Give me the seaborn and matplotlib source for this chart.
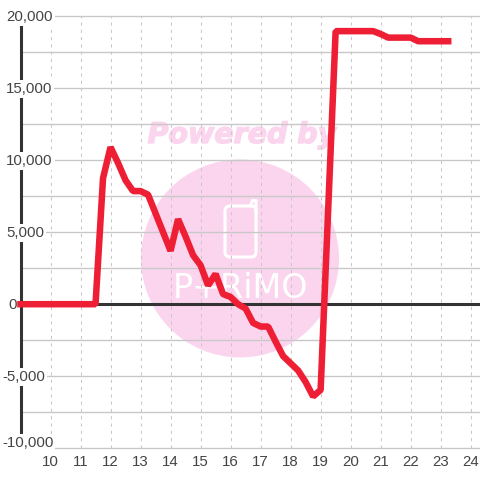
import matplotlib
matplotlib.use('Agg')
import matplotlib.pyplot as plt
import matplotlib.patheffects as pe
import seaborn as sns
from matplotlib.patches import Circle, FancyBboxPatch
from matplotlib.transforms import Affine2D

# Series values
hours = [9, 11.5, 11.75, 12, 12.25, 12.5, 12.75, 13, 13.25, 13.5, 13.75, 14, 14.25, 14.5, 14.75,
         15, 15.25, 15.5, 15.75, 16, 16.25, 16.5, 16.75, 17, 17.25, 17.5, 17.75, 18, 18.25, 18.5,
         18.75, 19, 19.5, 20.75, 21, 21.25, 22, 22.25, 23.25]
values = [0, 0, 8750, 10900, 9800, 8600, 7850, 7850, 7600, 6300, 5000, 3700, 5900, 4700, 3400,
          2700, 1300, 2100, 700, 500, 0, -300, -1300, -1550, -1550, -2600, -3600, -4100, -4600, -5400,
          -6400, -5950, 18950, 18950, 18750, 18500, 18500, 18250, 18250]

x_ticks = list(range(10, 25))
y_ticks = list(range(-10000, 20001, 2500))
y_labels = ['20,000', '15,000', '10,000', '5,000', '0', '-5,000', '-10,000']
y_label_values = [20000, 15000, 10000, 5000, 0, -5000, -10000]
y_label_left = [6, 6, 6, 6, 8, 2, 2]
y_label_shift = [-1, -1, -1, -1, -1, -1, 5.5]

RED = '#ee1f35'
PINK = '#fbd5ee'
DARK = '#333333'
GREY = '#c8c8c8'
TEXT = '#444444'

sns.set_style('white')
plt.rcParams['font.family'] = ['Liberation Sans', 'DejaVu Sans']

fig = plt.figure(figsize=(4.8, 4.8), dpi=100, facecolor='white')
ax = fig.add_axes([20.5 / 480, 1 - 448.3 / 480, (480 - 20.5) / 480, (448.3 - 16) / 480], zorder=5)
ax.patch.set_visible(False)

# picture pixels, y going down
to_px = Affine2D().scale(1 / 480, -1 / 480).translate(0, 1) + fig.transFigure

# Watermark behind the chart
fig.add_artist(Circle((240, 258.5), 99, transform=to_px, fc=PINK, ec='none'))
fig.text(242, 135, 'Powered by', transform=to_px, color=PINK, fontsize=20.5, fontweight='bold',
         fontstyle='italic', family='DejaVu Sans', ha='center', va='center',
         path_effects=[pe.withStroke(linewidth=1.0, foreground=PINK)])
fig.add_artist(FancyBboxPatch((225, 206), 31, 51, boxstyle='round,pad=0,rounding_size=5', transform=to_px,
                              fc='none', ec='white', lw=2.2))
fig.add_artist(plt.Line2D([250.5, 252.5, 256, 256], [206, 200.5, 200.5, 212], color='white', lw=2.2,
                          transform=to_px))
fig.text(240, 289, 'P+RiMO', transform=to_px, color='white', fontsize=24,
         family=['Liberation Sans Narrow', 'DejaVu Sans'], ha='center', va='center')

# Main line
sns.lineplot(x=hours, y=values, ax=ax, color=RED, linewidth=4.7, zorder=4, legend=False, sort=False,
             clip_on=False, solid_capstyle='projecting', solid_joinstyle='bevel')

ax.set_xlim(9, 24.31)
ax.set_ylim(-10000, 20000)
ax.set_xticks(x_ticks)
ax.set_yticks(y_ticks)
ax.set_yticklabels([])
ax.set_xlabel('')
ax.set_ylabel('')
ax.tick_params(axis='both', length=0)
ax.tick_params(axis='x', labelsize=10.8, labelcolor=TEXT, pad=5)

# Grid
ax.set_axisbelow(True)
ax.grid(True, axis='y', color=GREY, linewidth=1.0, linestyle='-')
ax.grid(True, axis='x', color=GREY, linewidth=0.75, linestyle=(0, (3, 4)))
for line in ax.get_ygridlines():
    line.set_clip_on(False)

ax.axhline(0, color=DARK, linewidth=2.2, zorder=3)

for side in ['top', 'right', 'bottom']:
    ax.spines[side].set_visible(False)
ax.spines['left'].set_color(DARK)
ax.spines['left'].set_linewidth(2.2)
ax.spines['left'].set_zorder(2.5)

# Y labels sit on a white box which cuts the axis and the grid
for label, val, left, shift in zip(y_labels, y_label_values, y_label_left, y_label_shift):
    ax.annotate(label, xy=(0, val), xycoords=('axes fraction', 'data'),
                xytext=((left - 20.5) * 0.72, shift * 0.72), textcoords='offset points',
                ha='left', va='center', fontsize=10.8, color=TEXT, zorder=3.5, annotation_clip=False,
                bbox=dict(fc='white', ec='none', pad=1.5))

plt.savefig('out.png', dpi=100)
